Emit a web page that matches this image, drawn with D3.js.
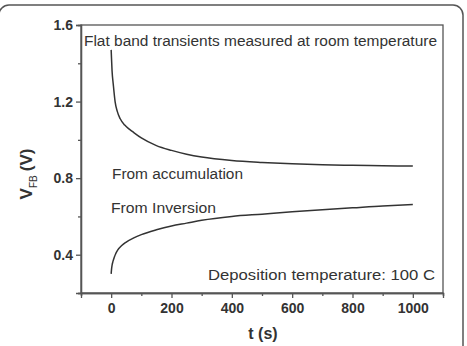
<!DOCTYPE html>
<html><head><meta charset="utf-8">
<script src="https://cdn.jsdelivr.net/npm/d3@7"></script>
<style>body{margin:0;background:#fff}svg{display:block}</style>
</head><body>
<script>
// Data
const tAcc = [0,1,3,7,13,20,30,45,60,75,100,150,200,250,300,400,500,600,700,800,900,1000];
const vAcc = [1.47,1.43,1.36,1.29,1.20,1.15,1.11,1.077,1.056,1.038,1.01,0.97,0.945,0.925,0.91,0.892,0.882,0.875,0.87,0.867,0.865,0.863];
const tInv = [0,1,3,6,10,15,22,35,50,75,100,150,200,250,300,400,500,600,700,800,900,1000];
const vInv = [0.30,0.32,0.345,0.365,0.385,0.405,0.425,0.448,0.466,0.488,0.505,0.53,0.55,0.565,0.58,0.60,0.612,0.624,0.635,0.645,0.655,0.662];
const xTicks = [0,200,400,600,800,1000];
const yTicks = [0.4,0.8,1.2,1.6];
const xMinor = [-100,100,300,500,700,900,1100];
const yMinor = [0.2,0.6,1.0,1.4];

const W=467,H=346;
const svg=d3.select("body").append("svg").attr("width",W).attr("height",H);
const m={l:81,r:443,t:25,b:293};
const x=d3.scaleLinear().domain([-100,1100]).range([m.l,m.r]);
const y=d3.scaleLinear().domain([0.2,1.6]).range([m.b,m.t]);
const ink="#333", axc="#555";
const font="Liberation Sans, Arial, sans-serif";

// outer rounded frame
svg.append("rect").attr("x",-1).attr("y",5).attr("width",464).attr("height",360)
  .attr("rx",10).attr("fill","none").attr("stroke","#555").attr("stroke-width",1.5);

// box
svg.append("rect").attr("x",m.l).attr("y",m.t).attr("width",m.r-m.l).attr("height",m.b-m.t)
  .attr("fill","none").attr("stroke",axc).attr("stroke-width",1.3);

// axes
const gx=svg.append("g").attr("transform",`translate(0,${m.b})`)
  .call(d3.axisBottom(x).tickValues(xTicks).tickFormat(d3.format("d")).tickSize(5).tickPadding(5));
const gxm=svg.append("g").attr("transform",`translate(0,${m.b})`)
  .call(d3.axisBottom(x).tickValues(xMinor).tickFormat("").tickSize(3));
const gy=svg.append("g").attr("transform",`translate(${m.l},0)`)
  .call(d3.axisLeft(y).tickValues(yTicks).tickFormat(d3.format(".1f")).tickSize(5).tickPadding(3));
const gym=svg.append("g").attr("transform",`translate(${m.l},0)`)
  .call(d3.axisLeft(y).tickValues(yMinor).tickFormat("").tickSize(3));
[gx,gxm,gy,gym].forEach(g=>{
  g.select(".domain").attr("stroke",axc).attr("stroke-width",1.3);
  g.selectAll(".tick line").attr("stroke",axc).attr("stroke-width",1.3);
  g.selectAll("text").attr("font-family",font).attr("font-size",14).attr("font-weight","bold").attr("fill",ink);
});

// curves
const line=d3.line().curve(d3.curveMonotoneX);
svg.append("path").attr("d",line(tAcc.map((t,i)=>[x(t),y(vAcc[i])])))
  .attr("fill","none").attr("stroke",ink).attr("stroke-width",1.5);
svg.append("path").attr("d",line(tInv.map((t,i)=>[x(t),y(vInv[i])])))
  .attr("fill","none").attr("stroke",ink).attr("stroke-width",1.5);

// annotations
const ann=(tx,ty,s,len)=>svg.append("text").attr("x",tx).attr("y",ty).text(s)
  .attr("font-family",font).attr("font-size",15.5).attr("fill",ink)
  .attr("textLength",len).attr("lengthAdjust","spacingAndGlyphs");
ann(84,46,"Flat band transients measured at room temperature",353);
ann(112,179,"From accumulation",131);
ann(111,213,"From Inversion",105);
ann(208,280,"Deposition temperature: 100 C",227);

// axis titles
svg.append("text").attr("x",263).attr("y",339).attr("text-anchor","middle")
  .attr("font-family",font).attr("font-size",16).attr("font-weight","bold").attr("fill",ink).text("t (s)");
const yt=svg.append("text").attr("transform","translate(32,174) rotate(-90)").attr("text-anchor","middle")
  .attr("font-family",font).attr("font-size",17).attr("font-weight","bold").attr("fill",ink);
yt.append("tspan").text("V");
yt.append("tspan").attr("font-size",10).attr("font-weight","normal").attr("dy",5).text("FB");
yt.append("tspan").attr("dy",-5).attr("dx",4).text("(V)");
</script>
</body></html>
